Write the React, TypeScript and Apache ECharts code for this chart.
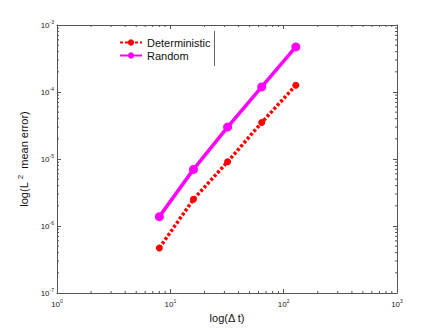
import React, { useEffect, useRef } from "react";
import * as echarts from "echarts";

const dtValues = [8, 16, 32, 64, 128];
const deterministic = [4.7e-7, 2.5e-6, 9.1e-6, 3.5e-5, 1.26e-4];
const randomErr = [1.38e-6, 7.0e-6, 3.0e-5, 1.19e-4, 4.7e-4];
const xMin = 1;
const xMax = 1000;
const yMin = 1e-7;
const yMax = 1e-3;

const FONT = "Liberation Sans, Arial, Helvetica, sans-serif";
const AXIS_COLOR = "#555";

function minorTicks(lo: number, hi: number): number[] {
  const out: number[] = [];
  for (let d = lo; d < hi; d *= 10) {
    for (let k = 2; k <= 9; k++) out.push(d * k);
  }
  return out;
}

function powLabel(v: number) {
  const e = Math.round(Math.log10(v));
  return `{b|10}{s|${e}}`;
}

const richLabel = {
  b: { fontSize: 8, fontFamily: FONT, color: "#222" },
  s: { fontSize: 5, fontFamily: FONT, color: "#222", padding: [0, 0, 7, 0] },
};

export default function App() {
  const ref = useRef<HTMLDivElement>(null);
  useEffect(() => {
    if (!ref.current) return;
    const chart = echarts.init(ref.current, undefined, { renderer: "svg" });
    const tickData: number[][] = [];
    minorTicks(xMin, xMax).forEach((v) => tickData.push([v, 1e-5, 0]));
    minorTicks(yMin, yMax).forEach((v) => tickData.push([10, v, 1]));

    const baseX = {
      type: "log" as const,
      logBase: 10,
      min: xMin,
      max: xMax,
      axisLine: { show: true, lineStyle: { color: AXIS_COLOR, width: 1 } },
      axisTick: { show: true, inside: true, length: 4, lineStyle: { color: AXIS_COLOR } },
      splitLine: { show: false },
    };
    const baseY = {
      type: "log" as const,
      logBase: 10,
      min: yMin,
      max: yMax,
      axisLine: { show: true, lineStyle: { color: AXIS_COLOR, width: 1 } },
      axisTick: { show: true, inside: true, length: 4, lineStyle: { color: AXIS_COLOR } },
      splitLine: { show: false },
    };

    chart.setOption({
      animation: false,
      backgroundColor: "#fff",
      grid: { left: 57, right: 42, top: 25, bottom: 36, containLabel: false },
      xAxis: [
        {
          ...baseX,
          position: "bottom",
          name: "log(Δ t)",
          nameLocation: "middle",
          nameGap: 14,
          nameTextStyle: { fontSize: 11, fontFamily: FONT, color: "#111" },
          axisLabel: { formatter: powLabel, rich: richLabel, margin: 5 },
        },
        {
          ...baseX,
          position: "top",
          axisLabel: { show: false },
        },
      ],
      yAxis: [
        {
          ...baseY,
          position: "left",
          name: "log(L{s|2} mean error)",
          nameLocation: "middle",
          nameRotate: 90,
          nameGap: 18,
          nameTextStyle: {
            fontSize: 11,
            fontFamily: FONT,
            color: "#111",
            rich: {
              s: { fontSize: 8, fontFamily: FONT, color: "#111", padding: [0, 3, 8, 3] },
            },
          },
          axisLabel: { formatter: powLabel, rich: richLabel, margin: 3 },
        },
        {
          ...baseY,
          position: "right",
          axisLabel: { show: false },
        },
      ],
      legend: {
        show: true,
        orient: "vertical",
        left: 119,
        top: 37,
        padding: 0,
        itemWidth: 22,
        itemHeight: 8,
        itemGap: 2,
        textStyle: { fontSize: 11, fontFamily: FONT, color: "#111" },
        data: ["Deterministic", "Random"],
      },
      graphic: [
        {
          type: "line",
          shape: { x1: 214.5, y1: 31, x2: 214.5, y2: 66 },
          style: { stroke: "#666", lineWidth: 1 },
        },
      ],
      series: [
        {
          name: "Deterministic",
          type: "line",
          data: dtValues.map((x, i) => [x, deterministic[i]]),
          symbol: "circle",
          symbolSize: 7,
          itemStyle: { color: "#ff0000" },
          lineStyle: { color: "#ff0000", width: 3.5, type: [3, 2] },
        },
        {
          name: "Random",
          type: "line",
          data: dtValues.map((x, i) => [x, randomErr[i]]),
          symbol: "circle",
          symbolSize: 9,
          itemStyle: { color: "#ff00ff" },
          lineStyle: { color: "#ff00ff", width: 3.5 },
        },
        {
          name: "minorTicks",
          type: "custom",
          silent: true,
          data: tickData,
          renderItem: (params: any, api: any) => {
            const flag = api.value(2);
            const v = flag === 0 ? api.value(0) : api.value(1);
            const len = 2;
            const style = { stroke: AXIS_COLOR, lineWidth: 1 };
            if (flag === 0) {
              const b = api.coord([v, yMin]);
              const t = api.coord([v, yMax]);
              return {
                type: "group",
                children: [
                  { type: "line", shape: { x1: b[0], y1: b[1], x2: b[0], y2: b[1] - len }, style },
                  { type: "line", shape: { x1: t[0], y1: t[1], x2: t[0], y2: t[1] + len }, style },
                ],
              };
            }
            const l = api.coord([xMin, v]);
            const r = api.coord([xMax, v]);
            return {
              type: "group",
              children: [
                { type: "line", shape: { x1: l[0], y1: l[1], x2: l[0] + len, y2: l[1] }, style },
                { type: "line", shape: { x1: r[0], y1: r[1], x2: r[0] - len, y2: r[1] }, style },
              ],
            };
          },
        },
      ],
    });
    return () => chart.dispose();
  }, []);
  return (
    <div style={{ position: "absolute", left: 0, top: 0 }}>
      <div ref={ref} style={{ width: 439, height: 329 }} />
    </div>
  );
}
